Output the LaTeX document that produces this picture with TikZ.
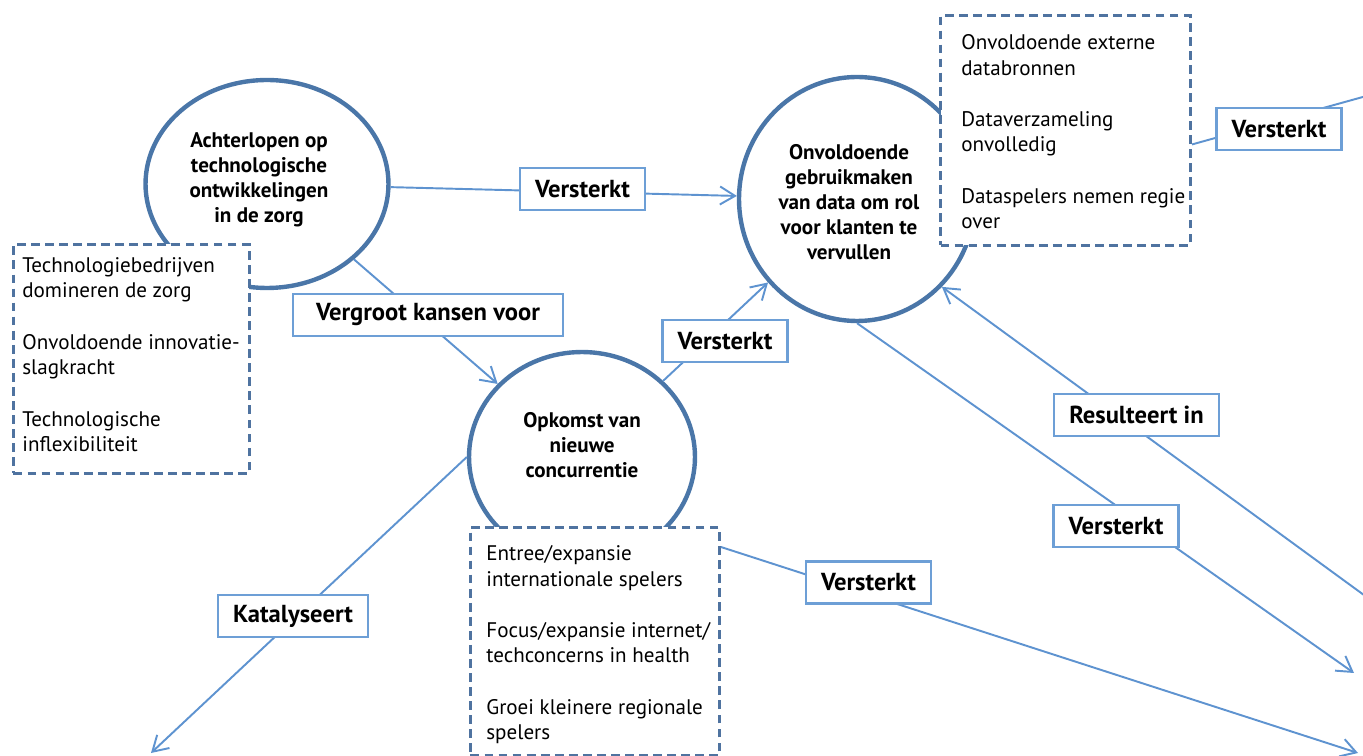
\documentclass[tikz,border=0pt]{standalone}
\usepackage{fontspec}
\setmainfont{PT Sans}
\usetikzlibrary{shapes.geometric,arrows.meta}
\definecolor{ringblue}{HTML}{4A76A8}
\definecolor{dashblue}{HTML}{4F73A0}
\definecolor{labblue}{HTML}{6D9FD6}
\definecolor{lineblue}{HTML}{5E93D0}

\begin{document}
\begin{tikzpicture}[x=0.02cm,y=-0.02cm,
  ring/.style={draw=ringblue,line width=2.5pt,ellipse,fill=white,inner sep=0pt},
  ringtext/.style={anchor=north,align=center,inner sep=0pt,font=\fontsize{12}{14.2}\selectfont\bfseries},
  listbox/.style={draw=dashblue,line width=1.7pt,dash pattern=on 5pt off 3pt,fill=white,anchor=north west,inner sep=0pt},
  listtext/.style={anchor=north west,align=left,inner sep=0pt,font=\fontsize{12}{14.6}\selectfont},
  lab/.style={draw=labblue,line width=1.4pt,fill=white,inner xsep=0.3cm,inner ysep=0pt,minimum height=0.84cm,font=\fontsize{14}{16}\selectfont\bfseries},
  conn/.style={draw=lineblue,line width=1.1pt},
  tip/.style={-{Straight Barb[length=0.3cm,width=0.36cm]}}]
\useasboundingbox (0,0) rectangle (1363,756);
\clip (0,0) rectangle (1363,756);

% the three themes
\node[ring,minimum width=4.86cm,minimum height=4.16cm] (e1) at (267,184) {};
\node[ring,minimum width=4.72cm,minimum height=4.88cm] (e2) at (857,199) {};
\node[ring,minimum width=4.52cm,minimum height=4.2cm] (e3) at (582,457) {};
\node[ringtext] (e1t) at (259,132) {Achterlopen op\\technologische\\ontwikkelingen\\in de zorg};
\node[ringtext] (e2t) at (849,144) {Onvoldoende\\gebruikmaken\\van data om rol\\voor klanten te\\vervullen};
\node[ringtext] (e3t) at (582,412) {Opkomst van\\nieuwe\\concurrentie};

% dashed lists
\node[listbox,minimum width=4.72cm,minimum height=4.58cm] (d1) at (12,243) {};
\node[listbox,minimum width=5cm,minimum height=4.6cm] (d2) at (939,14) {};
\node[listbox,minimum width=4.98cm,minimum height=4.56cm] (d3) at (469,526) {};
\node[listtext] (d1t) at (22,257) {Technologiebedrijven\\domineren de zorg\\[14.6pt]
  Onvoldoende innovatie-\\slagkracht\\[14.6pt]Technologische\\inflexibiliteit};
\node[listtext] (d2t) at (961,34) {Onvoldoende externe\\databronnen\\[14.6pt]
  Dataverzameling\\onvolledig\\[14.6pt]Dataspelers nemen regie\\over};
\node[listtext] (d3t) at (486,545) {Entree/expansie\\internationale spelers\\[14.6pt]
  Focus/expansie internet/\\techconcerns in health\\[14.6pt]Groei kleinere regionale\\spelers};

% loose ends at the border
\coordinate (out1) at (1370,95);
\coordinate (out2) at (1368,598);
\coordinate (tipA) at (1354,673);
\coordinate (tipB) at (1358,753);
\coordinate (tipC) at (151,753);

\draw[conn] ([yshift=-0.28cm]d2.east) -- (out1);
\draw[conn,tip] (e1) -- (e2);
\draw[conn,tip] (e1) -- (e3);
\draw[conn,tip] (e3) -- (e2);
\draw[conn,tip] (out2) -- (e2.-46);
\draw[conn,tip] (e2.south) -- (tipA);
\draw[conn,tip] ([yshift=-0.42cm]d3.north east) -- (tipB);
\draw[conn,tip] (e3.west) -- (tipC);

% labels on the lines
\node[lab] (v1) at (582.5,189) {Versterkt};
\node[lab,minimum width=5.4cm] (vk) at (428,315) {Vergroot kansen voor};
\node[lab] (v2) at (725,341) {Versterkt};
\node[lab] (v4) at (1279,129) {Versterkt};
\node[lab] (r1) at (1136.5,415) {Resulteert in};
\node[lab] (v5) at (1116,526) {Versterkt};
\node[lab] (v6) at (868.5,582.5) {Versterkt};
\node[lab] (ka) at (293,616) {Katalyseert};
\end{tikzpicture}
\end{document}
